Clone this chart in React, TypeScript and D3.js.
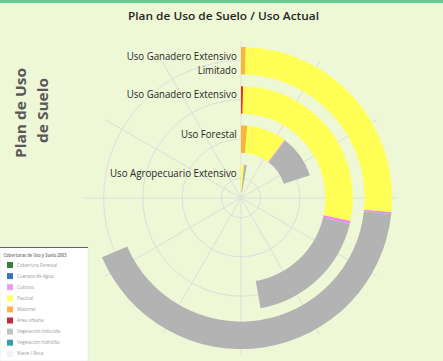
import React from "react";
import * as d3 from "d3";

const categories = [
  "Uso Agropecuario Extensivo",
  "Uso Forestal",
  "Uso Ganadero Extensivo",
  "Uso Ganadero Extensivo Limitado",
];
const categoryLines = [
  ["Uso Agropecuario Extensivo"],
  ["Uso Forestal"],
  ["Uso Ganadero Extensivo"],
  ["Uso Ganadero Extensivo", "Limitado"],
];
const lineWidths = [[126.7], [55.7], [110], [110, 39]];

const seriesNames = ["Matorral", "Área urbana", "Pastizal", "Cultivos", "Vegetación inducida"];
const matorral = [0, 14, 0, 5];
const areaUrbana = [0, 0, 3, 0];
const pastizal = [14, 89, 280, 260];
const cultivos = [0, 2, 4, 2];
const vegInducida = [14, 94, 185, 419];
const seriesColors = ["#fbb43a", "#ff2a10", "#ffff55", "#ee88ee", "#b3b3b3"];
const angleMax = 1000;

const legendTitle = "Coberturas de Uso y Suelo 2003";
const legendNames = [
  "Cobertura Forestal",
  "Cuerpos de Agua",
  "Cultivos",
  "Pastizal",
  "Matorral",
  "Área urbana",
  "Vegetación inducida",
  "Vegetación hidrófila",
  "Nieve / Roca",
];
const legendColors = ["#3b7d3b", "#3a6fc2", "#ee9cee", "#ffff66", "#ffb347", "#c62839", "#c2c2c2", "#3c9cb0", "#f3eef8"];

const spokeAngles = d3.range(0, 360, 30);

export default function App() {
  const W = 443, H = 361;
  const cx = 241, cy = 198;
  const seriesValues = [matorral, areaUrbana, pastizal, cultivos, vegInducida];
  const rows = categories.map((c, i) => {
    const o: any = { cat: c };
    seriesNames.forEach((s, j) => (o[s] = seriesValues[j][i]));
    return o;
  });
  const stacked = d3.stack<any>().keys(seriesNames)(rows);
  const r = d3.scaleBand().domain(categories).range([0, 157]).paddingInner(0.3).paddingOuter(0.15);
  const a = d3.scaleLinear().domain([0, angleMax]).range([0, 2 * Math.PI]);
  const arc = d3.arc<any>();
  const rMax = 157;
  const font = "'Open Sans', 'Noto Sans', sans-serif";

  return (
    <svg width={W} height={H} style={{ position: "fixed", left: 0, top: 0 }} fontFamily={font}>
      <rect width={W} height={H} fill="#eef7d6" />
      <rect width={W} height={3} fill="#62cf92" />
      <text x={223.5} y={20} textAnchor="middle" fontSize={11.5} fontWeight={600} fill="#262626"
        textLength={191} lengthAdjust="spacingAndGlyphs">Plan de Uso de Suelo / Uso Actual</text>
      <g transform="translate(25.5,113) rotate(-90)">
        <text textAnchor="middle" fontSize={14.5} fontWeight="bold" fill="#595959" textLength={90} lengthAdjust="spacingAndGlyphs">Plan de Uso</text>
      </g>
      <g transform="translate(48.3,110.5) rotate(-90)">
        <text textAnchor="middle" fontSize={14.5} fontWeight="bold" fill="#595959" textLength={65} lengthAdjust="spacingAndGlyphs">de Suelo</text>
      </g>
      <g transform={`translate(${cx},${cy})`}>
        {categories.map((c) => (
          <circle key={c} r={(r(c) as number) + r.bandwidth() / 2} fill="none" stroke="#dedede" strokeWidth={1} />
        ))}
        {spokeAngles.map((d) => {
          const t = (d * Math.PI) / 180;
          return <line key={d} x1={0} y1={0} x2={rMax * Math.sin(t)} y2={-rMax * Math.cos(t)} stroke="#dedede" strokeWidth={1} />;
        })}
        {stacked.map((s, j) => (
          <g key={s.key} fill={seriesColors[j]}>
            {s.map((d: any, i: number) =>
              d[1] - d[0] > 0 ? (
                <path key={i} d={arc({
                  innerRadius: r(categories[i]) as number,
                  outerRadius: (r(categories[i]) as number) + r.bandwidth(),
                  startAngle: a(d[0]),
                  endAngle: a(d[1]),
                }) as string} />
              ) : null
            )}
          </g>
        ))}
      </g>
      {categories.map((c, i) => {
        const yc = cy - ((r(c) as number) + r.bandwidth() / 2);
        const lines = categoryLines[i];
        const y0 = lines.length === 1 ? yc - 1.5 : yc - 1;
        return lines.map((ln, k) => (
          <text key={c + k} x={236.7} y={y0 + k * 14} textAnchor="end" fontSize={10.2} fill="#262626"
            textLength={lineWidths[i][k]} lengthAdjust="spacingAndGlyphs">{ln}</text>
        ));
      })}
      <g>
        <rect x={0} y={247} width={88} height={114} fill="#ffffff" stroke="#e0e0e0" strokeWidth={0.5} />
        <line x1={0} x2={88} y1={247.5} y2={247.5} stroke="#666" strokeWidth={1} />
        <text x={3.5} y={256.5} fontSize={4.6} fontWeight="bold" fill="#888" textLength={63} lengthAdjust="spacingAndGlyphs">{legendTitle}</text>
        {legendNames.map((n, i) => {
          const y = 265 + i * 11.1;
          return (
            <g key={n}>
              <rect x={7} y={y - 3} width={6} height={6} fill={legendColors[i]} />
              <text x={17} y={y + 1.6} fontSize={4.6} fill="#999">{n}</text>
            </g>
          );
        })}
      </g>
    </svg>
  );
}
